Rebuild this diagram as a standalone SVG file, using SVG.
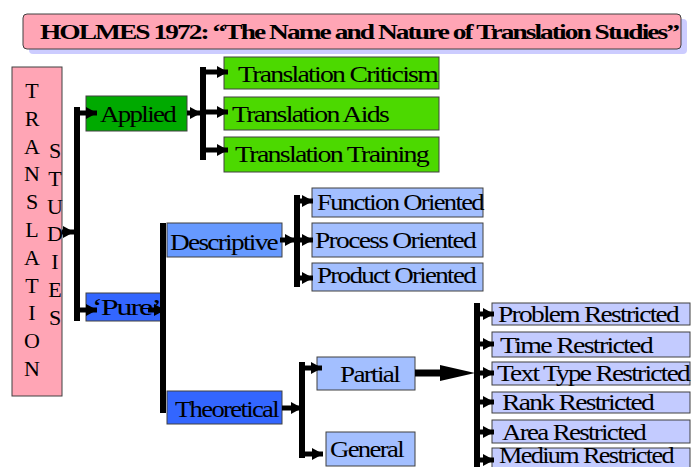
<svg xmlns="http://www.w3.org/2000/svg" width="691" height="467" viewBox="0 0 691 467">
<style>
.bx{stroke:#404040;stroke-width:1}
.t{font-family:"Liberation Serif","Times New Roman",serif;font-size:24px;fill:#000;letter-spacing:-1.5px}
.v{font-family:"Liberation Serif","Times New Roman",serif;font-size:22px;fill:#000;text-anchor:middle}
.bar{stroke:#000;stroke-width:6;fill:none}
.ln{stroke:#000;stroke-width:5;fill:none;marker-end:url(#ah)}
</style>
<defs>
<marker id="ah" markerUnits="userSpaceOnUse" markerWidth="11" markerHeight="12" refX="11" refY="6" orient="auto">
<path d="M0,0 L11,6 L0,12 z" fill="#000"/>
</marker>
</defs>
<rect width="691" height="467" fill="#fff"/>

<g id="title">
<rect x="29" y="19" width="658" height="35" rx="4" fill="#CCCCFF"/>
<rect class="bx" x="23" y="14" width="658" height="35" rx="4" fill="#FFA5B5"/>
<text x="40" y="39" class="t" style="font-size:21px;font-weight:bold" textLength="638" lengthAdjust="spacingAndGlyphs">HOLMES 1972: “The Name and Nature of Translation Studies”</text>
</g>

<g id="translation-studies">
<rect class="bx" x="12" y="67" width="50" height="329" fill="#FFA5B5"/>
<text class="v" x="32" y="98">T</text>
<text class="v" x="32" y="125.8">R</text>
<text class="v" x="32" y="153.6">A</text>
<text class="v" x="32" y="181.4">N</text>
<text class="v" x="32" y="209.2">S</text>
<text class="v" x="32" y="237">L</text>
<text class="v" x="32" y="264.8">A</text>
<text class="v" x="32" y="292.6">T</text>
<text class="v" x="32" y="320.4">I</text>
<text class="v" x="32" y="348.2">O</text>
<text class="v" x="32" y="376">N</text>
<text class="v" x="55" y="158">S</text>
<text class="v" x="55" y="185.8">T</text>
<text class="v" x="55" y="213.6">U</text>
<text class="v" x="55" y="241.4">D</text>
<text class="v" x="55" y="269.2">I</text>
<text class="v" x="55" y="297">E</text>
<text class="v" x="55" y="324.8">S</text>
</g>

<g id="applied">
<rect class="bx" x="86" y="96" width="101" height="35" fill="#00AA00"/>
<text class="t" x="100" y="122" textLength="75" lengthAdjust="spacingAndGlyphs">Applied</text>
</g>
<g id="criticism">
<rect class="bx" x="224" y="57" width="215" height="32" fill="#4CD900"/>
<text class="t" x="238" y="82" textLength="199" lengthAdjust="spacingAndGlyphs">Translation Criticism</text>
</g>
<g id="aids">
<rect class="bx" x="224" y="97" width="215" height="33" fill="#4CD900"/>
<text class="t" x="232" y="122" textLength="156" lengthAdjust="spacingAndGlyphs">Translation Aids</text>
</g>
<g id="training">
<rect class="bx" x="224" y="137" width="215" height="35" fill="#4CD900"/>
<text class="t" x="235" y="162" textLength="193" lengthAdjust="spacingAndGlyphs">Translation Training</text>
</g>

<g id="pure">
<rect class="bx" x="86" y="293" width="76" height="28" fill="#3366FF"/>
<text class="t" x="92" y="315" textLength="68" lengthAdjust="spacingAndGlyphs">‘Pure’</text>
</g>
<g id="descriptive">
<rect class="bx" x="167" y="223" width="115" height="34" fill="#6699FF"/>
<text class="t" x="170" y="250" textLength="107" lengthAdjust="spacingAndGlyphs">Descriptive</text>
</g>
<g id="function">
<rect class="bx" x="312" y="188" width="171" height="29" fill="#A3BFFF"/>
<text class="t" x="317" y="210" textLength="166" lengthAdjust="spacingAndGlyphs">Function Oriented</text>
</g>
<g id="process">
<rect class="bx" x="312" y="223" width="171" height="34" fill="#A3BFFF"/>
<text class="t" x="315" y="248" textLength="160" lengthAdjust="spacingAndGlyphs">Process Oriented</text>
</g>
<g id="product">
<rect class="bx" x="312" y="263" width="171" height="28" fill="#A3BFFF"/>
<text class="t" x="317" y="283" textLength="158" lengthAdjust="spacingAndGlyphs">Product Oriented</text>
</g>
<g id="theoretical">
<rect class="bx" x="167" y="391" width="115" height="33" fill="#3366FF"/>
<text class="t" x="175" y="417" textLength="103" lengthAdjust="spacingAndGlyphs">Theoretical</text>
</g>
<g id="partial">
<rect class="bx" x="317" y="357" width="98" height="33" fill="#A3BFFF"/>
<text class="t" x="340" y="382" textLength="59" lengthAdjust="spacingAndGlyphs">Partial</text>
</g>
<g id="general">
<rect class="bx" x="326" y="432" width="89" height="34" fill="#A3BFFF"/>
<text class="t" x="330" y="457" textLength="73" lengthAdjust="spacingAndGlyphs">General</text>
</g>
<g id="problem">
<rect class="bx" x="492" y="303" width="198" height="22" fill="#C3CBFF"/>
<text class="t" x="498" y="322" textLength="180" lengthAdjust="spacingAndGlyphs">Problem Restricted</text>
</g>
<g id="time">
<rect class="bx" x="492" y="332" width="198" height="25" fill="#C3CBFF"/>
<text class="t" x="500" y="353" textLength="152" lengthAdjust="spacingAndGlyphs">Time Restricted</text>
</g>
<g id="texttype">
<rect class="bx" x="492" y="362" width="198" height="23" fill="#C3CBFF"/>
<text class="t" x="497" y="381" textLength="192" lengthAdjust="spacingAndGlyphs">Text Type Restricted</text>
</g>
<g id="rank">
<rect class="bx" x="492" y="392" width="198" height="21" fill="#C3CBFF"/>
<text class="t" x="502" y="410" textLength="151" lengthAdjust="spacingAndGlyphs">Rank Restricted</text>
</g>
<g id="area">
<rect class="bx" x="492" y="420" width="198" height="23" fill="#C3CBFF"/>
<text class="t" x="502" y="440" textLength="143" lengthAdjust="spacingAndGlyphs">Area Restricted</text>
</g>
<g id="medium">
<rect class="bx" x="492" y="448" width="198" height="25" fill="#C3CBFF"/>
<text class="t" x="499" y="463" textLength="174" lengthAdjust="spacingAndGlyphs">Medium Restricted</text>
</g>

<g id="connectors">
<path class="ln" d="M62,232 H74"/>
<path class="bar" d="M77,107 V321"/>
<path class="ln" d="M77,113 H97"/>
<path class="ln" d="M77,310 H97"/>
<path class="ln" d="M187,113 H201"/>
<path class="bar" d="M203,67 V160"/>
<path class="ln" d="M203,72 H228"/>
<path class="ln" d="M203,112 H228"/>
<path class="ln" d="M203,150 H228"/>
<path class="ln" d="M148,310 H165"/>
<path class="bar" d="M163,223 V413"/>
<path class="ln" d="M280,240 H296"/>
<path class="bar" d="M297,195 V287"/>
<path class="ln" d="M297,201 H313"/>
<path class="ln" d="M297,240 H313"/>
<path class="ln" d="M297,278 H313"/>
<path class="ln" d="M282,408 H302"/>
<path class="bar" d="M302,362 V458"/>
<path class="ln" d="M302,368 H322"/>
<path class="ln" d="M302,454 H323"/>
<path d="M415,373 H442" stroke="#000" stroke-width="7"/>
<path d="M440,365 L475,373 L440,381 z" fill="#000"/>
<path class="bar" d="M477,303 V467"/>
<path class="ln" d="M477,314 H494"/>
<path class="ln" d="M477,344 H494"/>
<path class="ln" d="M477,373 H494"/>
<path class="ln" d="M477,402 H494"/>
<path class="ln" d="M477,432 H494"/>
<path class="ln" d="M477,460 H494"/>
</g>
</svg>
